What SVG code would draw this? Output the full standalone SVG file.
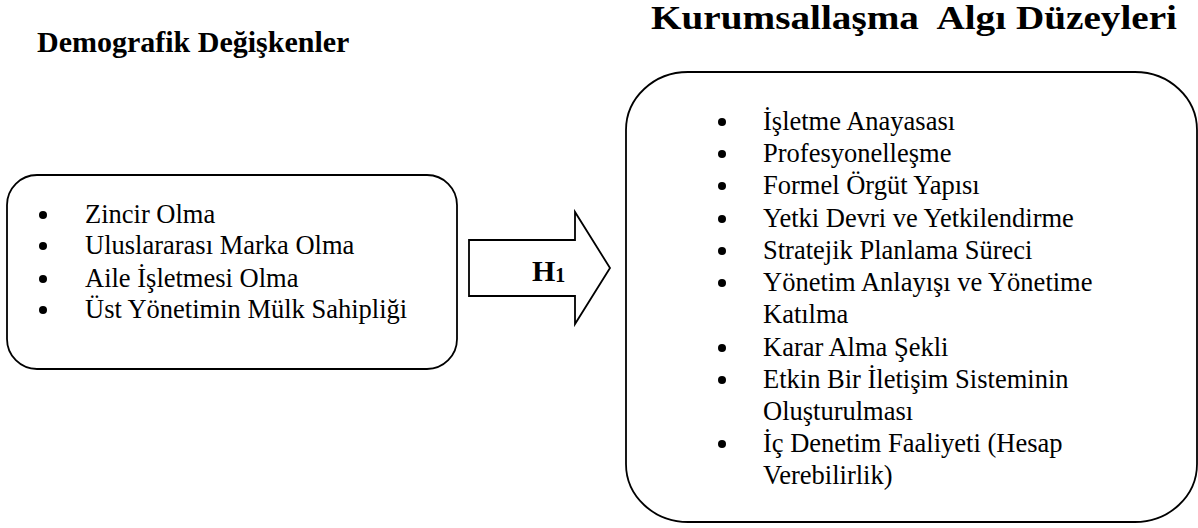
<svg xmlns="http://www.w3.org/2000/svg" width="1198" height="528" viewBox="0 0 1198 528">
<style>
.box{fill:#fff;stroke:#000;stroke-width:1.8}
.t{font-family:'Liberation Serif','Times New Roman',serif;font-size:26.5px;fill:#000}
.h{font-family:'Liberation Serif','Times New Roman',serif;font-size:30px;font-weight:bold;fill:#000}
.hr{font-size:33px}
.b{fill:#000}
</style>
<rect width="1198" height="528" fill="#fff"/>
<g id="heading-left"><text class="h" x="37" y="52">Demografik Değişkenler</text></g>
<g id="heading-right"><text class="h hr" x="651" y="29" xml:space="preserve" textLength="526" lengthAdjust="spacingAndGlyphs">Kurumsallaşma  Algı Düzeyleri</text></g>
<g id="demografik">
<rect class="box" x="7" y="175" width="450" height="194" rx="30" ry="30"/>
<circle class="b" cx="43" cy="215" r="4"/>
<circle class="b" cx="43" cy="246" r="4"/>
<circle class="b" cx="43" cy="279" r="4"/>
<circle class="b" cx="43" cy="310" r="4"/>
<text class="t" x="85" y="223">Zincir Olma</text>
<text class="t" x="85" y="254">Uluslararası Marka Olma</text>
<text class="t" x="85" y="287">Aile İşletmesi Olma</text>
<text class="t" x="85" y="318">Üst Yönetimin Mülk Sahipliği</text>
</g>
<g id="connectors">
<polygon class="box" points="469,240 575,240 575,212 610,268 575,324 575,296 469,296"/>
<text class="h" x="532" y="281">H<tspan font-size="20" dy="1">1</tspan></text>
</g>
<g id="kurumsallasma">
<rect class="box" x="626" y="72" width="571" height="450" rx="62" ry="58"/>
<g class="b">
<circle cx="722" cy="122" r="4"/>
<circle cx="722" cy="154" r="4"/>
<circle cx="722" cy="186" r="4"/>
<circle cx="722" cy="219" r="4"/>
<circle cx="722" cy="251" r="4"/>
<circle cx="722" cy="283" r="4"/>
<circle cx="722" cy="348" r="4"/>
<circle cx="722" cy="380" r="4"/>
<circle cx="722" cy="444" r="4"/>
</g>
<text class="t" x="763" y="130">İşletme Anayasası</text>
<text class="t" x="763" y="162">Profesyonelleşme</text>
<text class="t" x="763" y="194">Formel Örgüt Yapısı</text>
<text class="t" x="763" y="227">Yetki Devri ve Yetkilendirme</text>
<text class="t" x="763" y="259">Stratejik Planlama Süreci</text>
<text class="t" x="763" y="291">Yönetim Anlayışı ve Yönetime</text>
<text class="t" x="763" y="323">Katılma</text>
<text class="t" x="763" y="356">Karar Alma Şekli</text>
<text class="t" x="763" y="388">Etkin Bir İletişim Sisteminin</text>
<text class="t" x="763" y="420">Oluşturulması</text>
<text class="t" x="763" y="452">İç Denetim Faaliyeti (Hesap</text>
<text class="t" x="763" y="484">Verebilirlik)</text>
</g>
</svg>
